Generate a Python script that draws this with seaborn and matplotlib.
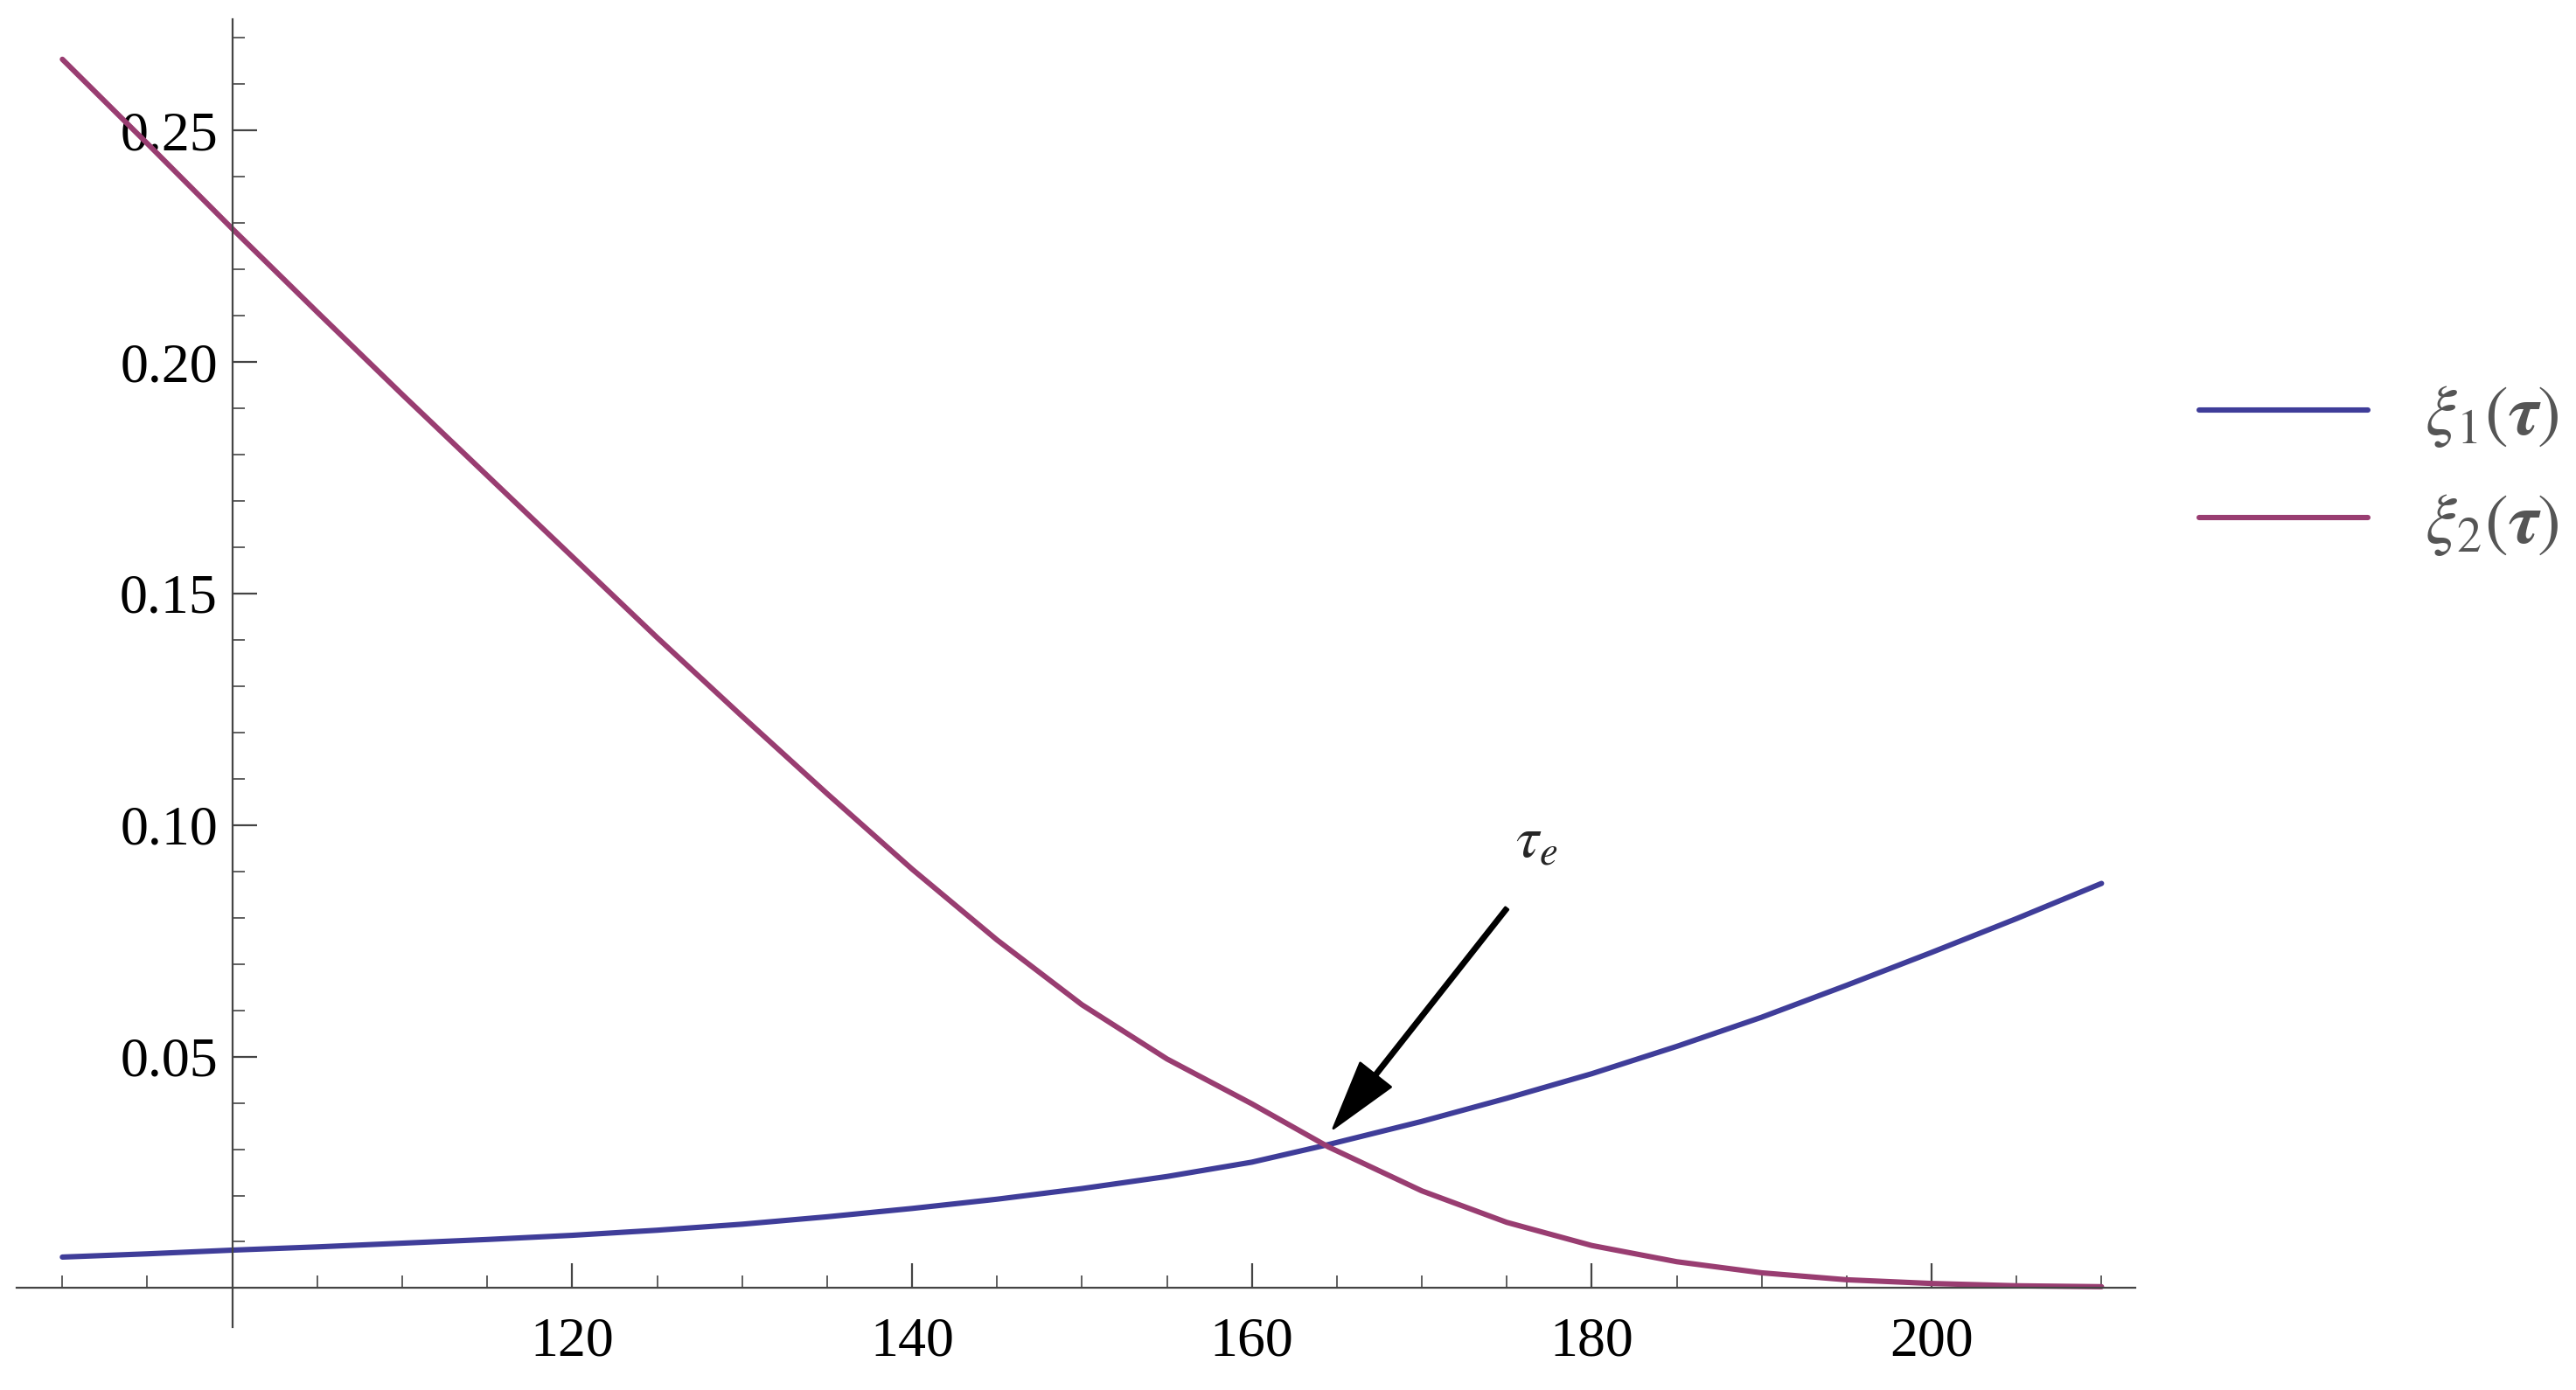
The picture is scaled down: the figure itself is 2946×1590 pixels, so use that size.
import matplotlib
matplotlib.use("Agg")
import matplotlib.pyplot as plt
import seaborn as sns
import pandas as pd
from matplotlib.ticker import MultipleLocator

tau = [90, 95, 100, 105, 110, 115, 120, 125, 130, 135, 140, 145, 150, 155, 160, 164.5, 170, 175, 180, 185, 190, 195, 200, 205, 210]
xi1 = [0.0067, 0.0074, 0.0082, 0.0089, 0.0097, 0.0105, 0.0114, 0.0125, 0.0138, 0.0154, 0.0172, 0.0192, 0.0215, 0.0241, 0.0272, 0.0310, 0.0360, 0.0410, 0.0463, 0.0522, 0.0585, 0.0654, 0.0725, 0.0798, 0.0874]
xi2 = [0.2654, 0.2472, 0.2288, 0.2108, 0.1930, 0.1755, 0.1580, 0.1405, 0.1235, 0.1068, 0.0905, 0.0752, 0.0612, 0.0495, 0.0398, 0.0305, 0.0210, 0.0142, 0.0092, 0.0057, 0.0033, 0.0018, 0.0010, 0.0005, 0.0003]
labels = [r"$\xi_1(\boldsymbol{\tau})$", r"$\xi_2(\boldsymbol{\tau})$"]
colors = ["#3f3d99", "#993d71"]

df = pd.concat([pd.DataFrame({"tau": tau, "v": xi1, "s": labels[0]}),
                pd.DataFrame({"tau": tau, "v": xi2, "s": labels[1]})])

sns.set_style("ticks")
plt.rcParams["font.family"] = ["Liberation Serif", "DejaVu Serif"]
plt.rcParams["mathtext.fontset"] = "stix"

fig = plt.figure(figsize=(14.73, 7.95), dpi=200)
ax = fig.add_axes([0.0064, 0.045, 0.8226, 0.941])
sns.lineplot(data=df, x="tau", y="v", hue="s", palette=colors, ax=ax, lw=2.2)
ax.set_xlim(87.3, 212)
ax.set_ylim(-0.0085, 0.274)
for s in ["top", "right"]:
    ax.spines[s].set_visible(False)
ax.spines["left"].set_position(("data", 100))
ax.spines["bottom"].set_position(("data", 0))
for s in ["left", "bottom"]:
    ax.spines[s].set_color("#444444")
    ax.spines[s].set_linewidth(0.8)
ax.set_xticks([120, 140, 160, 180, 200])
ax.set_yticks([0.05, 0.10, 0.15, 0.20, 0.25])
ax.set_yticklabels(["0.05", "0.10", "0.15", "0.20", "0.25"])
ax.xaxis.set_minor_locator(MultipleLocator(5))
ax.yaxis.set_minor_locator(MultipleLocator(0.01))
ax.tick_params(axis="both", which="major", direction="in", length=10, width=0.8, labelsize=23, colors="#444444", labelcolor="black")
ax.tick_params(axis="both", which="minor", direction="in", length=5, width=0.6, colors="#444444")
ax.tick_params(axis="x", pad=12)
ax.tick_params(axis="y", pad=6)
ax.set_xlabel(""); ax.set_ylabel("")
ax.annotate("", xy=(164.8, 0.0345), xytext=(175, 0.082),
            arrowprops=dict(facecolor="black", edgecolor="black", width=1.5, headwidth=16, headlength=28))
ax.text(175.5, 0.093, r"$\tau_e$", fontsize=24)
leg = ax.legend(loc="center left", bbox_to_anchor=(1.0, 0.655), frameon=False, fontsize=29,
                handlelength=2.4, labelspacing=0.6)
for t in leg.get_texts():
    t.set_color("#555555")
fig.savefig("out.png", dpi=200)
